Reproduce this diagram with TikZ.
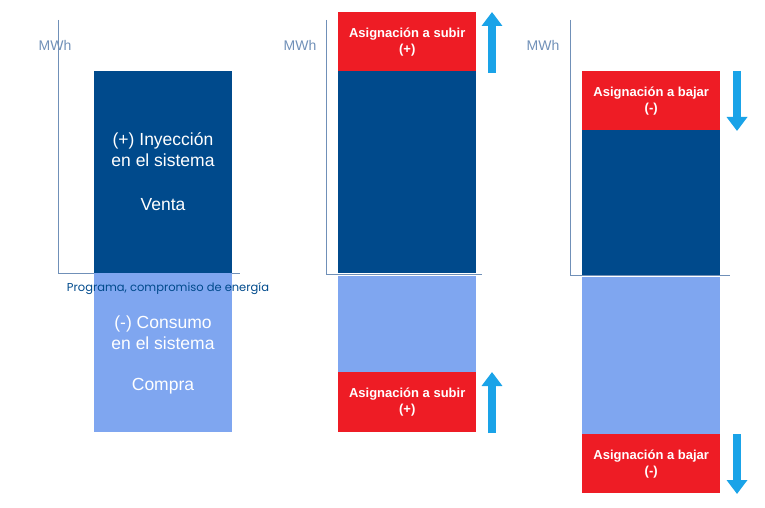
\documentclass[tikz,border=0pt]{standalone}
\usepackage{fontspec}
\setmainfont{Liberation Sans}
\newfontfamily\popp{Poppins}
\usetikzlibrary{arrows.meta}
\definecolor{dblue}{HTML}{004A8C}
\definecolor{lblue}{HTML}{7FA6F0}
\definecolor{redb}{HTML}{EE1C25}
\definecolor{cyanar}{HTML}{1AA3E8}
\definecolor{axisc}{HTML}{7090B8}
\begin{document}
\begin{tikzpicture}[x=1pt,y=-1pt,
  dark/.style={fill=dblue,draw=none},
  light/.style={fill=lblue,draw=none},
  redbox/.style={fill=redb,draw=none},
  axl/.style={draw=axisc,line width=0.8pt},
  mwh/.style={text=axisc,font=\fontsize{14}{16}\selectfont},
  big/.style={text=white,font=\fontsize{17.5}{21}\selectfont,align=center},
  rt/.style={text=white,font=\bfseries\fontsize{13}{16}\selectfont,align=center},
  arr/.style={draw=cyanar,line width=8pt,-{Triangle[width=20pt,length=14pt]}}]
\useasboundingbox (0,0) rectangle (765,508);
% Panel 1
\coordinate (a1t) at (58,20); \coordinate (a1o) at (58,273); \coordinate (a1r) at (240,273);
\draw[axl] (a1t) -- (a1o) -- (a1r);
\node[mwh] (m1) at (55,45) {MWh};
\node[dark,minimum width=138,minimum height=202,anchor=north west] (d1) at (94,71) {};
\node[light,minimum width=138,minimum height=159,anchor=north west] (l1) at (94,273) {};
\node[big] (t1) at (163,150) {(+) Inyección\\en el sistema};
\node[big] (t2) at (163,205) {Venta};
\node[big] (t3) at (163,333) {(-) Consumo\\en el sistema};
\node[big] (t4) at (163,386) {Compra};
\node[text=dblue,font=\popp\fontsize{11.5}{13}\selectfont] (pl) at (168,289) {Programa, compromiso de energía};
% Panel 2
\coordinate (a2t) at (326,20); \coordinate (a2o) at (326,274); \coordinate (a2r) at (482,274);
\draw[axl] (a2t) -- (a2o) -- (a2r);
\node[mwh] (m2) at (300,45) {MWh};
\node[redbox,minimum width=138,minimum height=59,anchor=north west] (r21) at (338,12) {};
\node[rt] at (r21) {Asignación a subir\\(+)};
\node[dark,minimum width=138,minimum height=202,anchor=north west] (d2) at (338,71) {};
\node[light,minimum width=138,minimum height=96,anchor=north west] (l2) at (338,276) {};
\node[redbox,minimum width=138,minimum height=60,anchor=north west] (r22) at (338,372) {};
\node[rt] at (r22) {Asignación a subir\\(+)};
\coordinate (u1a) at (492,73); \coordinate (u1b) at (492,12);
\coordinate (u2a) at (492,433); \coordinate (u2b) at (492,372);
\draw[arr] (u1a) -- (u1b);
\draw[arr] (u2a) -- (u2b);
% Panel 3
\coordinate (a3t) at (570,20); \coordinate (a3o) at (570,275); \coordinate (a3r) at (730,275);
\draw[axl] (a3t) -- (a3o) -- (a3r);
\node[mwh] (m3) at (543,45) {MWh};
\node[redbox,minimum width=138,minimum height=59,anchor=north west] (r31) at (582,71) {};
\node[rt] at (r31) {Asignación a bajar\\(-)};
\node[dark,minimum width=138,minimum height=145,anchor=north west] (d3) at (582,130) {};
\node[light,minimum width=138,minimum height=157,anchor=north west] (l3) at (582,277) {};
\node[redbox,minimum width=138,minimum height=59,anchor=north west] (r32) at (582,434) {};
\node[rt] at (r32) {Asignación a bajar\\(-)};
\coordinate (d1a) at (737,71); \coordinate (d1b) at (737,131);
\coordinate (d2a) at (737,434); \coordinate (d2b) at (737,494);
\draw[arr] (d1a) -- (d1b);
\draw[arr] (d2a) -- (d2b);
\end{tikzpicture}
\end{document}
